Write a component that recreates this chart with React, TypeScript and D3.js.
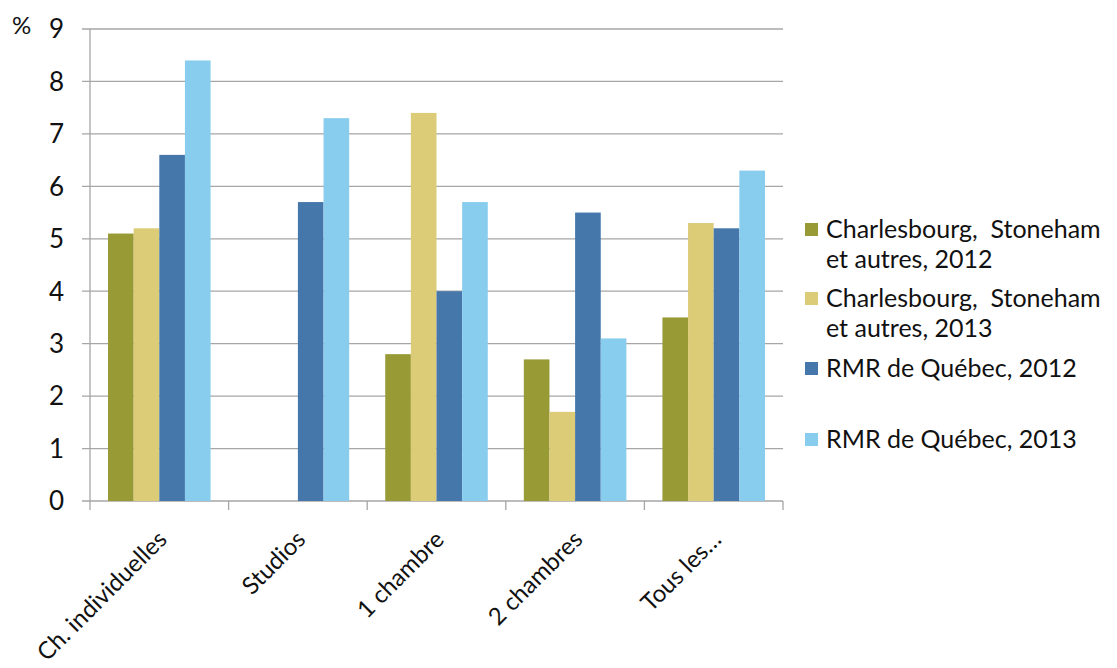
import React, { useEffect, useRef } from "react";
import * as d3 from "d3";

const categories = ["Ch. individuelles", "Studios", "1 chambre", "2 chambres", "Tous les…"];
const seriesNames = [
  ["Charlesbourg,  Stoneham", "et autres, 2012"],
  ["Charlesbourg,  Stoneham", "et autres, 2013"],
  ["RMR de Québec, 2012"],
  ["RMR de Québec, 2013"],
];
const charles2012 = [5.1, 0, 2.8, 2.7, 3.5];
const charles2013 = [5.2, 0, 7.4, 1.7, 5.3];
const rmr2012 = [6.6, 5.7, 4.0, 5.5, 5.2];
const rmr2013 = [8.4, 7.3, 5.7, 3.1, 6.3];
const yTicks = [0, 1, 2, 3, 4, 5, 6, 7, 8, 9];
const colors = ["#989a35", "#dccc78", "#4577aa", "#89cdee"];

const FONT = "Lato, 'Open Sans', sans-serif";

export default function App() {
  const ref = useRef<SVGSVGElement | null>(null);

  useEffect(() => {
    const svg = d3.select(ref.current);
    svg.selectAll("*").remove();

    const left = 90, right = 783, top = 29, bottom = 501;
    const series = [charles2012, charles2013, rmr2012, rmr2013];

    const x = d3.scaleBand().domain(categories).range([left, right]).paddingInner(0.26).paddingOuter(0.13);
    const xInner = d3.scaleBand().domain(d3.range(4).map(String)).range([0, x.bandwidth()]);
    const y = d3.scaleLinear().domain([0, 9]).range([bottom, top]);

    // gridlines
    svg.append("g")
      .selectAll("line")
      .data(yTicks)
      .join("line")
      .attr("x1", left - 8)
      .attr("x2", right)
      .attr("y1", (d) => y(d))
      .attr("y2", (d) => y(d))
      .attr("stroke", "#a6a6a6")
      .attr("stroke-width", 1.3);

    // bars
    series.forEach((vals, i) => {
      svg.append("g")
        .selectAll("rect")
        .data(vals)
        .join("rect")
        .attr("x", (_, j) => (x(categories[j]) as number) + (xInner(String(i)) as number))
        .attr("width", xInner.bandwidth())
        .attr("y", (d) => y(d))
        .attr("height", (d) => bottom - y(d))
        .attr("fill", colors[i]);
    });

    // y axis line
    svg.append("line")
      .attr("x1", left).attr("x2", left)
      .attr("y1", top).attr("y2", bottom)
      .attr("stroke", "#a6a6a6").attr("stroke-width", 1.3);

    // x axis ticks at category boundaries
    const step = (right - left) / categories.length;
    svg.append("g")
      .selectAll("line")
      .data(d3.range(categories.length + 1))
      .join("line")
      .attr("x1", (d) => left + d * step)
      .attr("x2", (d) => left + d * step)
      .attr("y1", bottom)
      .attr("y2", bottom + 9)
      .attr("stroke", "#a6a6a6").attr("stroke-width", 1.3);

    // y tick labels
    svg.append("g")
      .selectAll("text")
      .data(yTicks)
      .join("text")
      .attr("x", 64)
      .attr("y", (d) => y(d))
      .attr("dy", "0.36em")
      .attr("text-anchor", "end")
      .attr("font-family", FONT)
      .attr("font-size", 26)
      .attr("fill", "#111")
      .text((d) => d);

    svg.append("text")
      .attr("x", 12).attr("y", 34)
      .attr("font-family", FONT).attr("font-size", 24).attr("fill", "#111")
      .text("%");

    // x labels rotated
    svg.append("g")
      .selectAll("text")
      .data(categories)
      .join("text")
      .attr("transform", (d) => `translate(${(x(d) as number) + x.bandwidth() / 2 + 9},${bottom + 40}) rotate(-45)`)
      .attr("text-anchor", "end")
      .attr("font-family", FONT)
      .attr("font-size", 24)
      .attr("fill", "#111")
      .text((d) => d);

    // legend
    const legendY = [229, 298, 368, 439];
    const lg = svg.append("g");
    seriesNames.forEach((lines, i) => {
      lg.append("rect")
        .attr("x", 805).attr("y", legendY[i] - 6)
        .attr("width", 13).attr("height", 13)
        .attr("fill", colors[i]);
      lines.forEach((t, k) => {
        lg.append("text")
          .attr("x", 826).attr("y", legendY[i] + k * 30)
          .attr("dy", "0.36em")
          .attr("font-family", FONT).attr("font-size", 25).attr("fill", "#111")
          .attr("xml:space", "preserve")
          .style("white-space", "pre")
          .text(t);
      });
    });
  }, []);

  return <svg ref={ref} width={1117} height={668} style={{ display: "block", overflow: "visible", margin: "-8px 0 0 -8px" }} />;
}
